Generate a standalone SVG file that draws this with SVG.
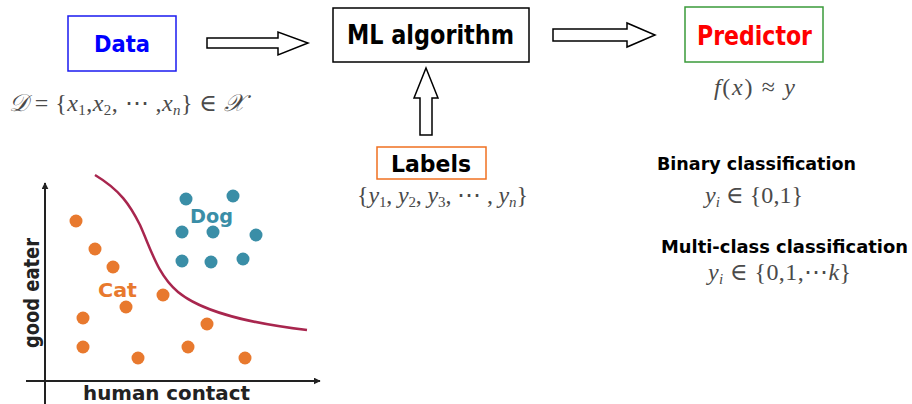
<svg xmlns="http://www.w3.org/2000/svg" width="912" height="404" viewBox="0 0 912 404">
<defs>
<style>
.lbl{font-family:"DejaVu Sans",Verdana,sans-serif;font-weight:bold}
.math{font-family:"Liberation Serif","DejaVu Serif",serif;fill:#4a4a4a;font-size:24px}
.mi{font-style:italic}
.sub{font-size:15px}
.barrow{fill:#fff;stroke:#000;stroke-width:1.5;stroke-linejoin:miter}
.cat{fill:#E8792E}
.dog{fill:#3A8EA7}
.plot{font-family:"DejaVu Sans",sans-serif;font-weight:bold}
</style>
<marker id="ah" viewBox="0 0 10 10" refX="9" refY="5" markerWidth="7" markerHeight="7" orient="auto" markerUnits="userSpaceOnUse">
<path d="M0,0 L10,5 L0,10 z" fill="#222"/>
</marker>
</defs>
<rect width="912" height="404" fill="#fff"/>

<g id="connectors">
<polygon class="barrow" points="207,38 278,38 278,32 308,43 278,55 278,48 207,48"/>
<polygon class="barrow" points="553,29 627,29 627,23 655,35 627,47 627,41 553,41"/>
<polygon class="barrow" points="420,135 420,98 414,98 426,68 438,98 432,98 432,135"/>
</g>

<g id="data">
<rect x="68" y="16" width="108" height="55" fill="#fff" stroke="#1A1AF0" stroke-width="1.5"/>
<text class="lbl" x="94" y="52" font-size="23" fill="#0000FF" textLength="56" lengthAdjust="spacingAndGlyphs">Data</text>
<text class="math" x="9" y="111" textLength="236" lengthAdjust="spacing"><tspan class="mi">𝒟</tspan> = {<tspan class="mi">x</tspan><tspan class="sub" dy="4">1</tspan><tspan dy="-4">,</tspan><tspan class="mi">x</tspan><tspan class="sub" dy="4">2</tspan><tspan dy="-4">, ⋯ ,</tspan><tspan class="mi">x</tspan><tspan class="sub mi" dy="4">n</tspan><tspan dy="-4">} ∈ </tspan><tspan class="mi">𝒳</tspan></text>
</g>

<g id="ml-algorithm">
<rect x="333" y="8" width="196" height="54" fill="#fff" stroke="#000" stroke-width="1.5"/>
<text class="lbl" x="347" y="44" font-size="26" fill="#000" textLength="167" lengthAdjust="spacingAndGlyphs">ML algorithm</text>
</g>

<g id="predictor">
<rect x="685" y="7" width="138" height="55" fill="#fff" stroke="#3A9A3A" stroke-width="1.5"/>
<text class="lbl" x="697" y="45" font-size="26" fill="#FF0000" textLength="115" lengthAdjust="spacingAndGlyphs">Predictor</text>
<text class="math" x="714" y="95" textLength="81" lengthAdjust="spacing"><tspan class="mi">f</tspan>(<tspan class="mi">x</tspan>) ≈ <tspan class="mi">y</tspan></text>
</g>

<g id="labels">
<rect x="377" y="147" width="109" height="32" fill="#fff" stroke="#F07020" stroke-width="1.5"/>
<text class="lbl" x="391" y="172" font-size="23" fill="#000" textLength="80" lengthAdjust="spacingAndGlyphs">Labels</text>
<text class="math" x="357" y="203" textLength="171" lengthAdjust="spacing">{<tspan class="mi">y</tspan><tspan class="sub" dy="4">1</tspan><tspan dy="-4">, </tspan><tspan class="mi">y</tspan><tspan class="sub" dy="4">2</tspan><tspan dy="-4">, </tspan><tspan class="mi">y</tspan><tspan class="sub" dy="4">3</tspan><tspan dy="-4">, ⋯ , </tspan><tspan class="mi">y</tspan><tspan class="sub mi" dy="4">n</tspan><tspan dy="-4">}</tspan></text>
</g>

<g id="binary">
<text class="lbl" x="657" y="170" font-size="18" fill="#000" textLength="199" lengthAdjust="spacingAndGlyphs">Binary classification</text>
<text class="math" x="705" y="203" textLength="98" lengthAdjust="spacing"><tspan class="mi">y</tspan><tspan class="sub mi" dy="4">i</tspan><tspan dy="-4"> ∈ {0,1}</tspan></text>
</g>

<g id="multiclass">
<text class="lbl" x="661" y="253" font-size="18" fill="#000" textLength="247" lengthAdjust="spacingAndGlyphs">Multi-class classification</text>
<text class="math" x="708" y="280" textLength="143" lengthAdjust="spacing"><tspan class="mi">y</tspan><tspan class="sub mi" dy="4">i</tspan><tspan dy="-4"> ∈ {0,1,⋯</tspan><tspan class="mi">k</tspan>}</text>
</g>

<g id="plot">
<line x1="45" y1="404" x2="45" y2="183" stroke="#222" stroke-width="2" marker-end="url(#ah)"/>
<line x1="26" y1="381" x2="320" y2="381" stroke="#222" stroke-width="2" marker-end="url(#ah)"/>
<path d="M95,175 C120,190 130,205 140,225 C152,252 158,275 178,292 C200,310 240,322 307,330" fill="none" stroke="#A8264E" stroke-width="2.5"/>
<circle class="cat" cx="76" cy="221" r="6.5"/>
<circle class="cat" cx="95" cy="249" r="6.5"/>
<circle class="cat" cx="113" cy="267" r="6.5"/>
<circle class="cat" cx="163" cy="295" r="6.5"/>
<circle class="cat" cx="126" cy="307" r="6.5"/>
<circle class="cat" cx="83" cy="318" r="6.5"/>
<circle class="cat" cx="207" cy="324" r="6.5"/>
<circle class="cat" cx="83" cy="347" r="6.5"/>
<circle class="cat" cx="188" cy="347" r="6.5"/>
<circle class="cat" cx="138" cy="358" r="6.5"/>
<circle class="cat" cx="245" cy="358" r="6.5"/>
<circle class="dog" cx="186" cy="199" r="6.5"/>
<circle class="dog" cx="233" cy="196" r="6.5"/>
<circle class="dog" cx="182" cy="232" r="6.5"/>
<circle class="dog" cx="213" cy="232" r="6.5"/>
<circle class="dog" cx="256" cy="235" r="6.5"/>
<circle class="dog" cx="182" cy="261" r="6.5"/>
<circle class="dog" cx="211" cy="262" r="6.5"/>
<circle class="dog" cx="243" cy="259" r="6.5"/>
<text class="plot" x="190" y="223" font-size="20" fill="#3A8EA7" textLength="43" lengthAdjust="spacingAndGlyphs">Dog</text>
<text class="plot" x="98" y="297" font-size="20" fill="#E8792E" textLength="39" lengthAdjust="spacingAndGlyphs">Cat</text>
<text class="plot" x="83" y="400" font-size="20" fill="#222" textLength="167" lengthAdjust="spacingAndGlyphs">human contact</text>
<text class="plot" transform="translate(39,348) rotate(-90)" x="0" y="0" font-size="21" fill="#222" textLength="110" lengthAdjust="spacingAndGlyphs">good eater</text>
</g>
</svg>
